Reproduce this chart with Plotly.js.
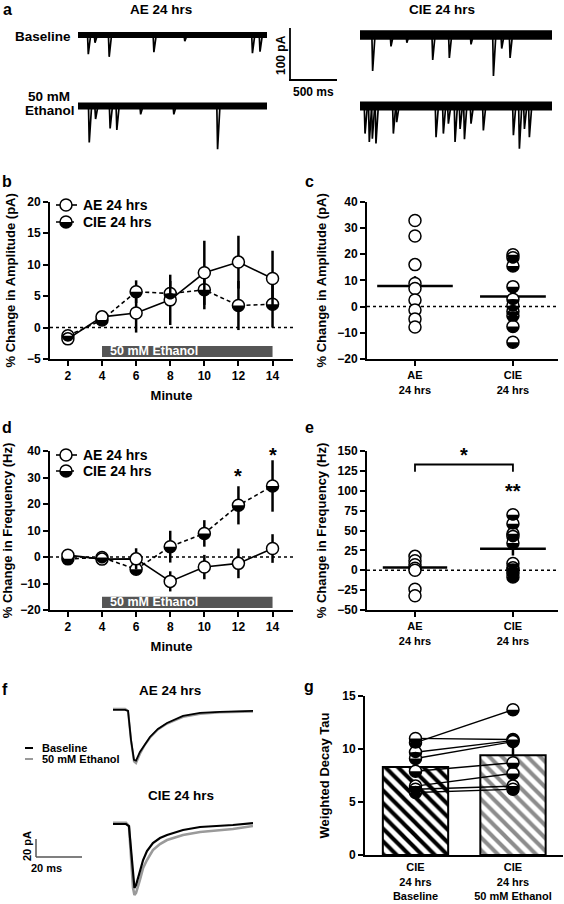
<!DOCTYPE html>
<html><head><meta charset="utf-8">
<script src="https://cdn.plot.ly/plotly-3.0.1.min.js"></script>
<style>html,body{margin:0;padding:0;background:#fff}#chart{width:564px;height:904px}</style>
</head><body><div id="chart"></div>
<script>
// ================= DATA =================
// Panel a: representative sEPSC traces – event times (ms) and amplitudes (pA)
const aeDur = 2000, cieDur = 2020;
const aeBaseEvtT  = [109, 180, 330, 803, 1130, 1846, 1926];
const aeBaseEvtA  = [37, 15, 42, 33, 12, 35, 32];
const aeEtohEvtT  = [119, 186, 340, 411, 663, 1014, 1477];
const aeEtohEvtA  = [70, 25, 43, 46, 16, 16, 83];
const cieBaseEvtT = [133, 326, 493, 765, 940, 1168, 1404, 1491, 1579];
const cieBaseEvtA = [69, 22, 15, 48, 44, 18, 79, 26, 44];
const cieEtohEvtT = [53, 98, 130, 168, 351, 386, 800, 877, 930, 1000, 1053, 1099, 1168, 1298, 1614, 1677, 1730, 1782];
const cieEtohEvtA = [53, 69, 63, 72, 53, 31, 60, 53, 34, 69, 44, 64, 34, 47, 56, 82, 44, 60];

// Panel b: % change in amplitude over time
const minutes   = [2, 4, 6, 8, 10, 12, 14];
const ampAE     = [-1.8, 1.7, 2.3, 4.4, 8.7, 10.4, 7.8];
const ampAEerr  = [0.3, 0.4, 3.1, 4.0, 5.1, 4.2, 4.4];
const ampCIE    = [-1.3, 1.2, 5.7, 5.4, 6.0, 3.5, 3.7];
const ampCIEerr = [0.3, 0.4, 1.8, 2.0, 3.1, 3.9, 3.7];
const ethanolWindow = [4, 14];

// Panel c: per-cell amplitude change
const groupLabels  = ['AE<br>24 hrs', 'CIE<br>24 hrs'];
const ampAEcells   = [32.8, 26.9, 16.0, 8.8, 6.9, 2.5, -1.3, -4.7, -7.8];
const ampCIEcells  = [19.8, 18.6, 15.5, 7.6, 2.8, 0.3, -1.9, -3.5, -7.6, -13.6];
const ampMeans     = [7.8, 3.8];
const ampSems      = [3.8, 2.9];

// Panel d: % change in frequency over time
const freqAE     = [0.7, -0.8, -0.7, -9.2, -3.8, -2.4, 3.2];
const freqAEerr  = [0.5, 0.5, 4.0, 3.8, 4.6, 5.6, 5.4];
const freqCIE    = [-0.7, -0.2, -4.6, 3.9, 8.9, 19.5, 26.8];
const freqCIEerr = [0.5, 0.5, 1.8, 6.0, 5.0, 7.2, 9.7];

// Panel e: per-cell frequency change
const freqAEcells  = [17.5, 12.0, 7.0, 2.5, 0.0, -24.0, -32.0];
const freqCIEcells = [69.8, 58.5, 46.0, 42.6, 34.3, 8.4, 3.0, 0.0, -4.2, -8.4];
const freqMeans    = [3.5, 27.0];
const freqSems     = [3.0, 8.5];

// Panel f: averaged sEPSC waveforms (time ms, current pA)
const fTime     = [0, 5.3, 6.6, 7.9, 9.2, 10.1, 11.8, 14.0, 16.2, 19.7, 23.7, 30.7, 38.2, 46.9, 61.4];
const aeBaseI   = [0, 0, -1.2, -36, -60, -61, -50.6, -41, -32.5, -22.9, -15.7, -7.2, -3.6, -2.4, -1.2];
const aeEtohI   = [1.2, 1.2, -1.2, -37, -62, -64, -53, -42, -33.5, -23.5, -16.5, -8.4, -4.8, -3.0, -2.0];
const fTime2    = [0, 5.7, 7.0, 7.9, 8.8, 9.4, 10.1, 11.8, 13.2, 14.9, 17.5, 20.6, 23.7, 30.7, 38.2, 52.6, 61.4];
const cieBaseI  = [0, 0, -2.4, -31.3, -67.5, -77.1, -73.5, -55.4, -43.4, -32.5, -22.9, -16.9, -13.3, -7.2, -3.6, -1.2, 1.2];
const cieEtohI  = [1.5, 1.5, -2.4, -37.3, -77.1, -85.5, -83.1, -67.5, -53, -43.4, -31.3, -24.1, -19.3, -13.3, -9.6, -6.0, -2.4];

// Panel g: weighted decay tau, paired cells
const gLabels   = ['CIE<br>24 hrs<br>Baseline', 'CIE<br>24 hrs<br>50 mM Ethanol'];
const tauBase   = [10.6, 11.0, 9.7, 9.1, 7.9, 6.5, 6.2, 5.9];
const tauEtoh   = [13.7, 10.9, 10.8, 10.7, 8.7, 7.7, 6.5, 6.2];
const tauMeans  = [8.3, 9.4];
const tauSems   = [0.7, 1.3];

// ================= LAYOUT HELPERS =================
const W = 564, H = 904;
const F = 'Liberation Sans, Arial, sans-serif';
const px = x => x / W;
const py = y => 1 - y / H;
const hd = (a, b) => [a / W, b / W];
const vd = (top, bottom) => [1 - bottom / H, 1 - top / H];

const tickF = {family: F, size: 12, color: '#000', weight: 'bold'};
const catF = {family: F, size: 11, color: '#000', weight: 'bold'};
const titleF = {family: F, size: 13, color: '#000', weight: 'bold'};
const axBase = {
  showline: true, linecolor: '#000', linewidth: 2, ticks: 'outside', ticklen: 5,
  tickwidth: 2, tickcolor: '#000', showgrid: false, zeroline: false,
  tickfont: tickF, fixedrange: true
};
const hidden = {visible: false, fixedrange: true, showgrid: false, zeroline: false};

const traces = [];
const shapes = [];
const skip = {hoverinfo: 'skip', showlegend: false, cliponaxis: false};
const R = 6; // marker radius in px

// lower-half semicircle (pixel offsets, y up)
function halfPath(r, mapX, mapY) {
  const pts = [];
  for (let i = 0; i <= 16; i++) {
    const a = Math.PI * i / 16;
    pts.push([mapX(-r * Math.cos(a)), mapY(-r * Math.sin(a))]);
  }
  return 'M' + pts.map(p => p[0].toFixed(4) + ',' + p[1].toFixed(4)).join(' L') + ' Z';
}
const HALF_PIX = halfPath(R, v => v, v => v);

// ---- panel a
function band(dur, xa, ya, w) {
  return Object.assign({type: 'scatter', mode: 'lines', x: [0, dur], y: [0, 0], xaxis: xa, yaxis: ya,
    line: {color: '#000', width: w}}, skip);
}
function events(times, amps, xa, ya) {
  const x = [], y = [];
  times.forEach((t, i) => { x.push(t - 8, t, t + 25, null); y.push(0, -amps[i], 0, null); });
  return Object.assign({type: 'scatter', mode: 'lines', x, y, xaxis: xa, yaxis: ya,
    line: {color: '#000', width: 1.7}}, skip);
}
traces.push(band(aeDur, 'x6', 'y6', 6), events(aeBaseEvtT, aeBaseEvtA, 'x6', 'y6'));
traces.push(band(aeDur, 'x6', 'y7', 7), events(aeEtohEvtT, aeEtohEvtA, 'x6', 'y7'));
traces.push(band(cieDur, 'x7', 'y6', 9.5), events(cieBaseEvtT, cieBaseEvtA, 'x7', 'y6'));
traces.push(band(cieDur, 'x7', 'y7', 9), events(cieEtohEvtT, cieEtohEvtA, 'x7', 'y7'));

// ---- marker helpers
function halfShapes(xs, ys, xa, ya) {
  xs.forEach((x, i) => {
    shapes.push({type: 'path', xref: xa, yref: ya, xsizemode: 'pixel', ysizemode: 'pixel',
      xanchor: x, yanchor: ys[i], path: HALF_PIX, fillcolor: '#000', line: {width: 0}, layer: 'above'});
  });
}
function circles(xs, ys, xa, ya) {
  return Object.assign({type: 'scatter', mode: 'markers', x: xs, y: ys, xaxis: xa, yaxis: ya,
    marker: {symbol: 'circle', size: 2 * R, color: '#fff', line: {color: '#000', width: 1.5}}}, skip);
}
function timeSeries(xs, ys, errs, xa, ya, dash, half) {
  const t = Object.assign({type: 'scatter', mode: 'lines+markers', x: xs, y: ys, xaxis: xa, yaxis: ya,
    line: {color: '#000', width: 1.6, dash: dash},
    marker: {symbol: 'circle', size: 2 * R, color: '#fff', line: {color: '#000', width: 1.5}},
    error_y: {type: 'data', array: errs, width: 0, thickness: 2.5, color: '#000'}}, skip);
  if (half) halfShapes(xs, ys, xa, ya);
  return t;
}
function meanLines(means, sems, xa, ya, sizes) {
  return Object.assign({type: 'scatter', mode: 'markers', x: [1, 2], y: means, xaxis: xa, yaxis: ya,
    marker: {symbol: 'line-ew', size: sizes, opacity: 1, color: '#000', line: {color: '#000', width: 2.5}},
    error_y: {type: 'data', array: sems, width: 0, thickness: 2.5, color: '#000'}}, skip);
}

// ---- panel b
traces.push(timeSeries(minutes, ampCIE, ampCIEerr, 'x', 'y', '4px,3px', true));
traces.push(timeSeries(minutes, ampAE, ampAEerr, 'x', 'y', 'solid', false));

// ---- panel c
traces.push(meanLines(ampMeans, ampSems, 'x2', 'y2', [54, 47]));
traces.push(circles(ampAEcells.map(() => 1), ampAEcells, 'x2', 'y2'));
traces.push(circles(ampCIEcells.map(() => 2), ampCIEcells, 'x2', 'y2'));
halfShapes(ampCIEcells.map(() => 2), ampCIEcells, 'x2', 'y2');

// ---- panel d
traces.push(timeSeries(minutes, freqCIE, freqCIEerr, 'x3', 'y3', '4px,3px', true));
traces.push(timeSeries(minutes, freqAE, freqAEerr, 'x3', 'y3', 'solid', false));

// ---- panel e
traces.push(meanLines(freqMeans, freqSems, 'x4', 'y4', [46, 47]));
traces.push(circles(freqAEcells.map(() => 1), freqAEcells, 'x4', 'y4'));
traces.push(circles(freqCIEcells.map(() => 2), freqCIEcells, 'x4', 'y4'));
halfShapes(freqCIEcells.map(() => 2), freqCIEcells, 'x4', 'y4');

// ---- panel f
traces.push(Object.assign({type: 'scatter', mode: 'lines', x: fTime, y: aeEtohI, xaxis: 'x8', yaxis: 'y8',
  line: {color: '#9a9a9a', width: 2.2}}, skip));
traces.push(Object.assign({type: 'scatter', mode: 'lines', x: fTime, y: aeBaseI, xaxis: 'x8', yaxis: 'y8',
  line: {color: '#000', width: 1.8}}, skip));
traces.push(Object.assign({type: 'scatter', mode: 'lines', x: fTime2, y: cieEtohI, xaxis: 'x8', yaxis: 'y9',
  line: {color: '#9a9a9a', width: 2.6}}, skip));
traces.push(Object.assign({type: 'scatter', mode: 'lines', x: fTime2, y: cieBaseI, xaxis: 'x8', yaxis: 'y9',
  line: {color: '#000', width: 2.2}}, skip));

// ---- panel g
traces.push({type: 'bar', x: [1, 2], y: tauMeans, width: 0.67, xaxis: 'x5', yaxis: 'y5',
  marker: {color: '#fff', line: {color: '#000', width: 2},
    pattern: {shape: '\\', fgcolor: ['#000', '#8c8c8c'], bgcolor: '#fff', size: 9, solidity: 0.45}},
  error_y: {type: 'data', symmetric: false, array: tauSems, arrayminus: [0, 0], width: 0, thickness: 2.5, color: '#000'},
  hoverinfo: 'skip', showlegend: false});
tauBase.forEach((b, i) => {
  traces.push(Object.assign({type: 'scatter', mode: 'lines', x: [1, 2], y: [b, tauEtoh[i]], xaxis: 'x5', yaxis: 'y5',
    line: {color: '#000', width: 1.4}}, skip));
});
traces.push(circles(tauBase.map(() => 1), tauBase, 'x5', 'y5'));
traces.push(circles(tauEtoh.map(() => 2), tauEtoh, 'x5', 'y5'));
halfShapes(tauBase.map(() => 1), tauBase, 'x5', 'y5');
halfShapes(tauEtoh.map(() => 2), tauEtoh, 'x5', 'y5');

// ================= AXES =================
const layout = {
  width: W, height: H, margin: {l: 0, r: 0, t: 0, b: 0},
  paper_bgcolor: '#fff', plot_bgcolor: 'rgba(0,0,0,0)', showlegend: false,
  font: {family: F, color: '#000'},
  // b
  xaxis: Object.assign({}, axBase, {domain: hd(50, 293), range: [0.95, 15.2], anchor: 'y',
    tickvals: minutes, title: {text: 'Minute', font: titleF, standoff: 8}}),
  yaxis: Object.assign({}, axBase, {domain: vd(201.7, 359), range: [-5, 20], anchor: 'x',
    tickvals: [-5, 0, 5, 10, 15, 20], title: {text: '% Change in Amplitude (pA)', font: titleF, standoff: 8}}),
  // c
  xaxis2: Object.assign({}, axBase, {domain: hd(367, 558), range: [0.51, 2.46], anchor: 'y2',
    tickvals: [1, 2], ticktext: groupLabels, tickfont: catF}),
  yaxis2: Object.assign({}, axBase, {domain: vd(201.7, 359), range: [-20, 40], anchor: 'x2',
    tickvals: [-20, -10, 0, 10, 20, 30, 40], title: {text: '% Change in Amplitude (pA)', font: titleF, standoff: 8}}),
  // d
  xaxis3: Object.assign({}, axBase, {domain: hd(50, 293), range: [0.95, 15.2], anchor: 'y3',
    tickvals: minutes, title: {text: 'Minute', font: titleF, standoff: 8}}),
  yaxis3: Object.assign({}, axBase, {domain: vd(451, 610), range: [-20, 40], anchor: 'x3',
    tickvals: [-20, -10, 0, 10, 20, 30, 40], title: {text: '% Change in Frequency (Hz)', font: titleF, standoff: 8}}),
  // e
  xaxis4: Object.assign({}, axBase, {domain: hd(367, 558), range: [0.51, 2.46], anchor: 'y4',
    tickvals: [1, 2], ticktext: groupLabels, tickfont: catF}),
  yaxis4: Object.assign({}, axBase, {domain: vd(451, 610), range: [-50, 150], anchor: 'x4',
    tickvals: [-50, -25, 0, 25, 50, 75, 100, 125, 150], title: {text: '% Change in Frequency (Hz)', font: titleF, standoff: 8}}),
  // g
  xaxis5: Object.assign({}, axBase, {domain: hd(365, 563), range: [0.482, 2.513], anchor: 'y5',
    ticks: '', ticklabelstandoff: 1, tickvals: [1, 2], ticktext: gLabels, tickfont: catF}),
  yaxis5: Object.assign({}, axBase, {domain: vd(696, 855), range: [0, 15], anchor: 'x5',
    tickvals: [0, 5, 10, 15], title: {text: 'Weighted Decay Tau', font: titleF, standoff: 10}}),
  // a
  xaxis6: Object.assign({}, hidden, {domain: hd(78, 267), range: [0, 2000], anchor: 'y6'}),
  xaxis7: Object.assign({}, hidden, {domain: hd(360, 552), range: [0, 2020], anchor: 'y6'}),
  yaxis6: Object.assign({}, hidden, {domain: vd(20, 90), range: [-105.8, 28.8], anchor: 'x6'}),
  yaxis7: Object.assign({}, hidden, {domain: vd(90, 160), range: [-103.8, 30.8], anchor: 'x6'}),
  // f
  xaxis8: Object.assign({}, hidden, {domain: hd(113, 253), range: [0, 61.4], anchor: 'y8'}),
  yaxis8: Object.assign({}, hidden, {domain: vd(700, 770), range: [-72.3, 12], anchor: 'x8'}),
  yaxis9: Object.assign({}, hidden, {domain: vd(810, 900), range: [-91.6, 16.9], anchor: 'x8'}),
  shapes: shapes, annotations: []
};

const S = shapes, A = layout.annotations;
function txt(x, y, text, opts) {
  A.push(Object.assign({xref: 'paper', yref: 'paper', x: px(x), y: py(y), text, showarrow: false,
    xanchor: 'center', yanchor: 'middle', font: {family: F, size: 13, color: '#000', weight: 'bold'}}, opts || {}));
}
function pline(x0, y0, x1, y1, line) {
  S.push({type: 'line', xref: 'paper', yref: 'paper', x0: px(x0), y0: py(y0), x1: px(x1), y1: py(y1),
    line: Object.assign({color: '#000', width: 2}, line || {})});
}
function pcircle(cx, cy, r, fill, lw) {
  S.push({type: 'circle', xref: 'paper', yref: 'paper', x0: px(cx - r), x1: px(cx + r), y0: py(cy + r), y1: py(cy - r),
    fillcolor: fill, line: {color: '#000', width: lw}});
}
function phalf(cx, cy, r) {
  S.push({type: 'path', xref: 'paper', yref: 'paper',
    path: halfPath(r, v => px(cx + v), v => py(cy - v)), fillcolor: '#000', line: {width: 0}});
}

// zero dotted lines
[['x', 'y'], ['x2', 'y2'], ['x3', 'y3'], ['x4', 'y4']].forEach(([xa, ya]) => {
  S.push({type: 'line', xref: xa + ' domain', yref: ya, x0: 0, x1: 1, y0: 0, y1: 0,
    line: {color: '#000', width: 1.6, dash: 'dot'}, layer: 'below'});
});
// ethanol application bars
[['x', 'y'], ['x3', 'y3']].forEach(([xa, ya]) => {
  S.push({type: 'rect', xref: xa, yref: ya + ' domain', x0: ethanolWindow[0], x1: ethanolWindow[1], y0: 0.013, y1: 0.083,
    fillcolor: '#555', line: {width: 0}, layer: 'below'});
  A.push({xref: xa, yref: ya + ' domain', x: ethanolWindow[0] + 0.35, y: 0.048, text: '50 mM Ethanol', showarrow: false,
    xanchor: 'left', yanchor: 'middle', font: {family: F, size: 12.5, color: '#fff', weight: 'bold'}});
});
// significance bracket (e)
S.push({type: 'path', xref: 'x4', yref: 'y4', path: 'M1,124 L1,133 L2,133 L2,124', line: {color: '#000', width: 1.8}});
A.push({xref: 'x4', yref: 'y4', x: 1.5, y: 145, text: '*', showarrow: false, font: {family: F, size: 20, weight: 'bold'}});
A.push({xref: 'x4', yref: 'y4', x: 2, y: 100, text: '**', showarrow: false, font: {family: F, size: 20, weight: 'bold'}});
// stars (d, g)
A.push({xref: 'x3', yref: 'y3', x: 12, y: 30.5, text: '*', showarrow: false, font: {family: F, size: 20, weight: 'bold'}});
A.push({xref: 'x3', yref: 'y3', x: 14, y: 38.5, text: '*', showarrow: false, font: {family: F, size: 20, weight: 'bold'}});
A.push({xref: 'x5', yref: 'y5', x: 2, y: 15.1, text: '**', showarrow: false, font: {family: F, size: 20, weight: 'bold'}});

// legends (b, d)
function legend(yAE, yCIE) {
  pline(56, yAE, 77, yAE, {width: 1.6});
  pcircle(66, yAE, 6, '#fff', 1.5);
  txt(81, yAE, 'AE 24 hrs', {xanchor: 'left', font: {family: F, size: 14, weight: 'bold'}});
  pline(56, yCIE, 77, yCIE, {width: 1.6, dash: '4px,3px'});
  pcircle(66, yCIE, 6, '#fff', 1.5);
  phalf(66, yCIE, 6);
  txt(81, yCIE, 'CIE 24 hrs', {xanchor: 'left', font: {family: F, size: 14, weight: 'bold'}});
}
legend(205, 222);
legend(455, 471);

// panel letters
[['a', 7, 9], ['b', 7, 181], ['c', 309, 181], ['d', 7, 428], ['e', 309, 428], ['f', 5, 689], ['g', 309, 686]]
  .forEach(([l, x, y]) => txt(x, y, l, {font: {family: F, size: 16, weight: 'bold'}}));

// panel a texts + scale bar
txt(161, 10, 'AE 24 hrs', {font: {family: F, size: 13.5, weight: 'bold'}});
txt(442, 10, 'CIE 24 hrs', {font: {family: F, size: 13.5, weight: 'bold'}});
txt(73, 37, 'Baseline', {xanchor: 'right', font: {family: F, size: 13.5, weight: 'bold'}});
txt(72, 97, '50 mM', {xanchor: 'right', font: {family: F, size: 13.5, weight: 'bold'}});
txt(77, 111, 'Ethanol', {xanchor: 'right', font: {family: F, size: 13.5, weight: 'bold'}});
pline(290, 28, 290, 81, {width: 1.8});
pline(289, 80, 337, 80, {width: 1.8});
txt(281, 55, '100 pA', {textangle: -90, font: {family: F, size: 12, weight: 'bold'}});
txt(313, 92, '500 ms', {font: {family: F, size: 12, weight: 'bold'}});

// panel f texts, legend, scale bar
txt(170, 690, 'AE 24 hrs', {font: {family: F, size: 13.5, weight: 'bold'}});
txt(181, 795, 'CIE 24 hrs', {font: {family: F, size: 13.5, weight: 'bold'}});
pline(25, 748, 33, 748, {width: 2, color: '#000'});
pline(25, 759, 33, 759, {width: 2, color: '#9a9a9a'});
txt(40, 748, 'Baseline', {xanchor: 'left', font: {family: F, size: 11, weight: 'bold'}});
txt(40, 759, '50 mM Ethanol', {xanchor: 'left', font: {family: F, size: 11, weight: 'bold'}});
pline(36, 839, 36, 857, {width: 1.5, color: '#555'});
pline(36, 857, 82, 857, {width: 1.5, color: '#555'});
txt(27, 846, '20 pA', {textangle: -90, font: {family: F, size: 11, weight: 'bold'}});
txt(46, 868, '20 ms', {font: {family: F, size: 11, weight: 'bold'}});

Plotly.newPlot('chart', traces, layout, {staticPlot: true, displayModeBar: false});
</script>
</body></html>
